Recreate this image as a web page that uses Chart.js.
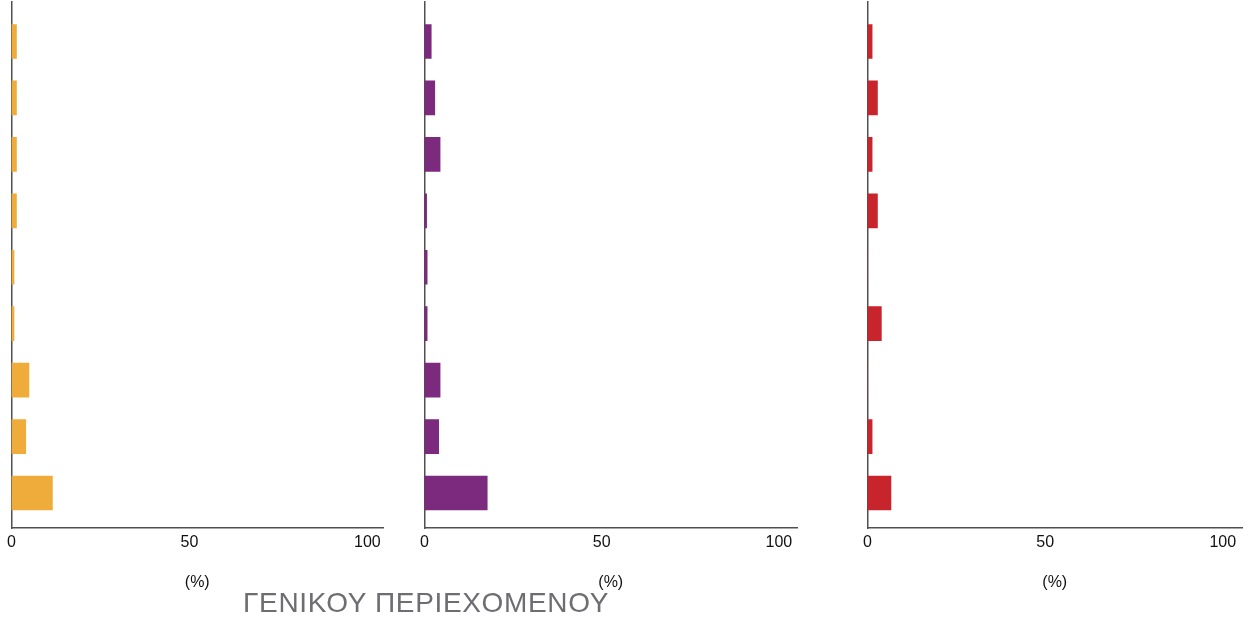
<!DOCTYPE html>
<html>
<head>
<meta charset="utf-8">
<script src="https://cdn.jsdelivr.net/npm/chart.js@4.4.1/dist/chart.umd.min.js"></script>
<style>
    html, body { margin: 0; padding: 0; background: #fff; }
    #wrap { position: relative; width: 1253px; height: 623px; overflow: hidden; }
    .panel { position: absolute; top: 0; height: 623px; }
    #caption {
        position: absolute; left: 243px; top: 589px;
        font: 28px "Liberation Sans", Arial, sans-serif; line-height: 28px;
        letter-spacing: 0.65px; color: #6d6d72; white-space: nowrap;
    }
</style>
</head>
<body>
<div id="wrap">
    <div class="panel" style="left:0;width:400px"><canvas id="chart1"></canvas></div>
    <div class="panel" style="left:413px;width:401px"><canvas id="chart2"></canvas></div>
    <div class="panel" style="left:856px;width:397px"><canvas id="chart3"></canvas></div>
    <div id="caption"></div>
</div>
<script>
// Row positions, top to bottom (the rows carry no visible labels)
const rows = [1, 2, 3, 4, 5, 6, 7, 8, 9];

// Percentages
const orangeValues = [1.4, 1.4, 1.4, 1.4, 0.7, 0.7, 4.9, 4.0, 11.5];
const purpleValues = [1.9, 2.9, 4.4, 0.6, 0.75, 0.75, 4.4, 4.0, 17.7];
const redValues    = [1.3, 2.8, 1.3, 2.8, 0, 3.9, 0, 1.3, 6.6];

const tickValues = [0, 50, 100];
const axisTitle = '(%)';
const caption = 'ΓΕΝΙΚΟΥ ΠΕΡΙΕΧΟΜΕΝΟΥ';

document.getElementById('caption').textContent = caption;

var FONT = '"Liberation Sans", Arial, Helvetica, sans-serif';
var AXIS = '#505050';
var TEXT = '#111';

// One horizontal bar panel; xMax leaves the axis running a little past 100.
function renderPanel(canvasId, values, color, xMax, padRight) {
    const ctx = document.getElementById(canvasId);
    if (!ctx) return;

    ctx.chart = new Chart(ctx, {
        type: 'bar',
        data: {
            datasets: [{
                data: rows.map(function(r, i) { return { x: values[i], y: r }; }),
                backgroundColor: color,
                borderWidth: 0,
                barThickness: 34
            }]
        },
        options: {
            indexAxis: 'y',
            responsive: true,
            maintainAspectRatio: false,
            animation: false,
            layout: {
                padding: { left: 11.5, right: padRight, top: 2, bottom: 0 }
            },
            plugins: {
                legend: { display: false },
                tooltip: { enabled: false }
            },
            scales: {
                x: {
                    type: 'linear',
                    min: 0,
                    max: xMax,
                    afterBuildTicks: function(s) {
                        s.ticks = tickValues.map(function(v) { return { value: v }; });
                    },
                    afterFit: function(s) { s.height = 95; },
                    grid: { display: false },
                    border: { display: true, color: AXIS, width: 1.5 },
                    ticks: {
                        color: TEXT,
                        padding: -3,
                        maxRotation: 0,
                        font: { family: FONT, size: 16 }
                    },
                    title: {
                        display: true,
                        text: axisTitle,
                        color: TEXT,
                        font: { family: FONT, size: 16 },
                        padding: { top: 0, bottom: 31 }
                    }
                },
                y: {
                    type: 'linear',
                    reverse: true,
                    offset: false,
                    min: 0.3,
                    max: 9.62,
                    afterFit: function(s) { s.width = 0; },
                    grid: { display: false },
                    border: { display: true, color: AXIS, width: 1.5 },
                    ticks: { display: false }
                }
            }
        }
    });
}

renderPanel('chart1', orangeValues, '#f0ac3a', 104.4, 17);
renderPanel('chart2', purpleValues, '#7b2a7e', 105.1, 17);
renderPanel('chart3', redValues, '#c8242c', 105.4, 11);
</script>
</body>
</html>
